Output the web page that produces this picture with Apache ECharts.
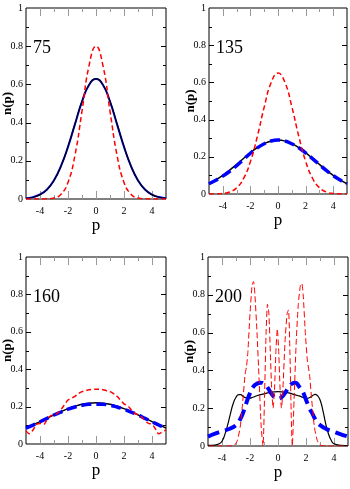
<!DOCTYPE html>
<html>
<head>
<meta charset="utf-8">
<script src="https://cdn.jsdelivr.net/npm/echarts@6/dist/echarts.min.js"></script>
<style>
  html, body { margin: 0; padding: 0; background: #fff; }
  #main { width: 350px; height: 489px; }
</style>
</head>
<body>
<div id="main"></div>
<script>
// p grid (step 0.5) used by most curves
var pHalf = [-5, -4.5, -4, -3.5, -3, -2.5, -2, -1.5, -1, -0.5, 0, 0.5, 1, 1.5, 2, 2.5, 3, 3.5, 4, 4.5, 5];
var pQuarter = [-5, -4.75, -4.5, -4.25, -4, -3.75, -3.5, -3.25, -3, -2.75, -2.5, -2.25, -2, -1.75, -1.5, -1.25, -1, -0.75, -0.5, -0.25,
  0, 0.25, 0.5, 0.75, 1, 1.25, 1.5, 1.75, 2, 2.25, 2.5, 2.75, 3, 3.25, 3.5, 3.75, 4, 4.25, 4.5, 4.75, 5];

var panelNames = ['75', '135', '160', '200'];
var xTickMajor = [-4, -2, 0, 2, 4];
var xTickMinor = [-3, -1, 1, 3];
var yTickMajor = [0.2, 0.4, 0.6, 0.8];
var yTickMinor = [0.1, 0.3, 0.5, 0.7, 0.9];

// panel 75
var black75 = [0.003, 0.009, 0.023, 0.049, 0.097, 0.172, 0.274, 0.394, 0.512, 0.598, 0.63, 0.598, 0.512, 0.394, 0.274, 0.172, 0.097, 0.049, 0.023, 0.009, 0.003];
var blue75 = [0.004, 0.01, 0.024, 0.05, 0.098, 0.173, 0.273, 0.392, 0.51, 0.597, 0.628, 0.597, 0.51, 0.392, 0.273, 0.172, 0.097, 0.05, 0.023, 0.01, 0.004];
var red75 = [0, 0, 0, 0.001, 0.005, 0.025, 0.087, 0.23, 0.46, 0.697, 0.8, 0.697, 0.46, 0.23, 0.087, 0.025, 0.005, 0.001, 0, 0, 0];

// panel 135
var black135 = [0.055, 0.076, 0.1, 0.128, 0.159, 0.191, 0.222, 0.25, 0.271, 0.285, 0.29, 0.285, 0.271, 0.25, 0.222, 0.191, 0.159, 0.128, 0.1, 0.076, 0.055];
var blue135 = [0.055, 0.074, 0.096, 0.122, 0.152, 0.186, 0.219, 0.248, 0.27, 0.285, 0.29, 0.285, 0.27, 0.249, 0.221, 0.19, 0.158, 0.127, 0.099, 0.075, 0.055];
var red135 = [0, 0.001, 0.003, 0.011, 0.033, 0.083, 0.174, 0.309, 0.467, 0.598, 0.65, 0.6, 0.47, 0.312, 0.176, 0.085, 0.034, 0.011, 0.003, 0.001, 0];

// panel 160
var black160 = [0.085, 0.102, 0.12, 0.138, 0.156, 0.173, 0.189, 0.202, 0.212, 0.218, 0.22, 0.218, 0.212, 0.202, 0.189, 0.173, 0.156, 0.138, 0.12, 0.102, 0.085];
var blue160 = [0.085, 0.101, 0.119, 0.137, 0.155, 0.171, 0.186, 0.198, 0.207, 0.212, 0.213, 0.212, 0.207, 0.198, 0.186, 0.171, 0.155, 0.137, 0.119, 0.101, 0.085];
var red160 = [0.07, 0.055, 0.075, 0.105, 0.11, 0.105, 0.13, 0.15, 0.155, 0.165, 0.185, 0.21, 0.235, 0.245, 0.255, 0.27, 0.28, 0.285, 0.29, 0.292,
  0.293, 0.292, 0.29, 0.285, 0.28, 0.27, 0.255, 0.235, 0.215, 0.205, 0.185, 0.165, 0.155, 0.145, 0.125, 0.11, 0.105, 0.08, 0.055, 0.065, 0.075];

// panel 200
var pBlack200 = [-5, -4.5, -4.2, -4, -3.8, -3.6, -3.4, -3.2, -3, -2.8, -2.65, -2.5, -2.3, -2.1, -1.8, -1.5, -1, -0.5, 0, 0.5, 1, 1.5, 1.8, 2.05, 2.3, 2.5, 2.65, 2.8, 3, 3.2, 3.4, 3.6, 3.8, 4, 4.5, 5];
var black200 = [0.003, 0.005, 0.012, 0.025, 0.06, 0.11, 0.17, 0.225, 0.258, 0.272, 0.272, 0.263, 0.255, 0.252, 0.258, 0.266, 0.276, 0.285, 0.288, 0.285, 0.276, 0.265, 0.257, 0.252, 0.258, 0.268, 0.273, 0.268, 0.245, 0.19, 0.12, 0.065, 0.03, 0.012, 0.004, 0.002];
var pBlue200 = [-5, -4.5, -4, -3.5, -3, -2.75, -2.5, -2.25, -2, -1.75, -1.5, -1.25, -1, -0.75, -0.5, -0.25, 0, 0.25, 0.5, 0.75, 1, 1.25, 1.5, 1.75, 2, 2.25, 2.5, 2.75, 3, 3.5, 4, 4.5, 5];
var blue200 = [0.05, 0.065, 0.078, 0.09, 0.11, 0.135, 0.175, 0.23, 0.28, 0.315, 0.33, 0.335, 0.33, 0.31, 0.28, 0.258, 0.25, 0.258, 0.28, 0.31, 0.33, 0.335, 0.315, 0.29, 0.245, 0.2, 0.165, 0.13, 0.11, 0.088, 0.075, 0.062, 0.05];
var pRed200 = [-5, -4, -3.5, -3.1, -2.9, -2.7, -2.5, -2.35, -2.25, -2.15, -2, -1.85, -1.75, -1.65, -1.5, -1.35, -1.2, -1.07, -0.95, -0.85, -0.75, -0.65, -0.55, -0.45, -0.35, -0.25, -0.15, -0.05,
  0.05, 0.15, 0.25, 0.35, 0.5, 0.65, 0.75, 0.85, 0.95, 1.02, 1.15, 1.3, 1.45, 1.6, 1.7, 1.8, 1.95, 2.1, 2.25, 2.4, 2.6, 2.8, 3, 3.5, 4, 5];
var red200 = [0, 0, 0, 0.005, 0.03, 0.1, 0.25, 0.38, 0.42, 0.5, 0.7, 0.85, 0.87, 0.8, 0.6, 0.35, 0.1, 0, 0.3, 0.6, 0.75, 0.7, 0.5, 0.3, 0.2, 0.3, 0.5, 0.62,
  0.5, 0.3, 0.2, 0.3, 0.55, 0.7, 0.72, 0.5, 0.15, 0, 0.25, 0.55, 0.75, 0.85, 0.86, 0.8, 0.6, 0.45, 0.38, 0.25, 0.1, 0.03, 0.005, 0, 0, 0];

function zip(xs, ys) {
  var out = [];
  for (var i = 0; i < xs.length; i++) out.push([xs[i], ys[i]]);
  return out;
}

var myChart = echarts.init(document.getElementById('main'));

// 每个子图的位置
var boxes = [
  { left: 26, top: 8, width: 140, height: 191 },
  { left: 209, top: 8, width: 138, height: 186 },
  { left: 26, top: 257, width: 140, height: 187 },
  { left: 208, top: 257, width: 140, height: 189 }
];

var serif = 'Liberation Serif';
var grids = [], xAxes = [], yAxes = [], titles = [];

boxes.forEach(function (b, i) {
  grids.push({ left: b.left, top: b.top, width: b.width, height: b.height, outerBoundsMode: 'none',
    show: true, borderColor: '#000', borderWidth: 1, backgroundColor: 'transparent' });

  xAxes.push({
    type: 'value', gridIndex: i, min: -5, max: 5,
    axisLine: { show: false, onZero: false },
    axisTick: { show: false },
    splitLine: { show: false },
    axisLabel: { customValues: xTickMajor, fontFamily: serif, fontSize: 10, color: '#000', margin: 7 },
    name: 'p', nameLocation: 'middle', nameGap: 18,
    nameTextStyle: { fontFamily: serif, fontSize: 17, color: '#000' }
  });

  yAxes.push({
    type: 'value', gridIndex: i, min: 0, max: 1, interval: 0.2,
    axisLine: { show: false, onZero: false },
    axisTick: { show: false },
    splitLine: { show: false },
    axisLabel: { fontFamily: serif, fontSize: 10, color: '#000', margin: 3 },
    name: 'n(p)', nameLocation: 'middle', nameRotate: 90, nameGap: 12, nameMoveOverlap: false,
    nameTextStyle: { fontFamily: serif, fontSize: 13, fontWeight: 'bold', color: '#000' }
  });

  titles.push({
    text: panelNames[i], left: b.left + 2, top: b.top + 26,
    textStyle: { fontFamily: serif, fontSize: 18, fontWeight: 'normal', color: '#000' }
  });
});

// 刻度线：上下/左右都朝内
function xTicks(len, color) {
  return function (params, api) {
    var v = api.value(0);
    var b = api.coord([v, 0]);
    var t = api.coord([v, 1]);
    var x = Math.round(b[0]) + 0.5;
    return { type: 'group', children: [
      { type: 'line', shape: { x1: x, y1: b[1], x2: x, y2: b[1] - len }, style: { stroke: color, lineWidth: 1 } },
      { type: 'line', shape: { x1: x, y1: t[1], x2: x, y2: t[1] + len }, style: { stroke: color, lineWidth: 1 } }
    ] };
  };
}
function yTicks(len, color) {
  return function (params, api) {
    var v = api.value(1);
    var l = api.coord([-5, v]);
    var r = api.coord([5, v]);
    var y = Math.round(l[1]) + 0.5;
    return { type: 'group', children: [
      { type: 'line', shape: { x1: l[0], y1: y, x2: l[0] + len, y2: y }, style: { stroke: color, lineWidth: 1 } },
      { type: 'line', shape: { x1: r[0], y1: y, x2: r[0] - len, y2: y }, style: { stroke: color, lineWidth: 1 } }
    ] };
  };
}
function tickSeries(i, data, render) {
  return { type: 'custom', xAxisIndex: i, yAxisIndex: i, data: data, renderItem: render, silent: true, clip: false, z: 1 };
}

function solid(i, data, color, w) {
  return { type: 'line', xAxisIndex: i, yAxisIndex: i, data: data, smooth: true, showSymbol: false, symbol: 'none',
    lineStyle: { color: color, width: w } };
}
function dashed(i, data, color, w, dash, smooth) {
  return { type: 'line', xAxisIndex: i, yAxisIndex: i, data: data, smooth: smooth, showSymbol: false, symbol: 'none',
    lineStyle: { color: color, width: w, type: dash } };
}

var series = [];
boxes.forEach(function (b, i) {
  series.push(tickSeries(i, xTickMajor.map(function (v) { return [v, 0]; }), xTicks(8, '#999')));
  series.push(tickSeries(i, xTickMinor.map(function (v) { return [v, 0]; }), xTicks(4, '#999')));
  series.push(tickSeries(i, yTickMajor.map(function (v) { return [0, v]; }), yTicks(5, '#000')));
  series.push(tickSeries(i, yTickMinor.map(function (v) { return [0, v]; }), yTicks(3, '#000')));
});

series = series.concat([
  solid(0, zip(pHalf, blue75), '#0000ff', 2),
  solid(0, zip(pHalf, black75), '#000', 1.2),
  dashed(0, zip(pHalf, red75), '#ff0000', 1.5, [5, 3], true),

  solid(1, zip(pHalf, black135), '#000', 1.5),
  dashed(1, zip(pHalf, blue135), '#0000ff', 3.5, [10, 5], true),
  dashed(1, zip(pHalf, red135), '#ff0000', 1.5, [5, 3], true),

  solid(2, zip(pHalf, black160), '#000', 1.5),
  dashed(2, zip(pHalf, blue160), '#0000ff', 3.5, [10, 5], true),
  dashed(2, zip(pQuarter, red160), '#ff0000', 1.5, [5, 3], 0.4),

  solid(3, zip(pBlack200, black200), '#000', 1.2),
  dashed(3, zip(pBlue200, blue200), '#0000ff', 4, [12, 6], true),
  dashed(3, zip(pRed200, red200), '#ff0000', 1, [6, 3], 0.2)
]);

var option = {
  animation: false,
  title: titles,
  grid: grids,
  xAxis: xAxes,
  yAxis: yAxes,
  series: series
};

myChart.setOption(option);
</script>
</body>
</html>
